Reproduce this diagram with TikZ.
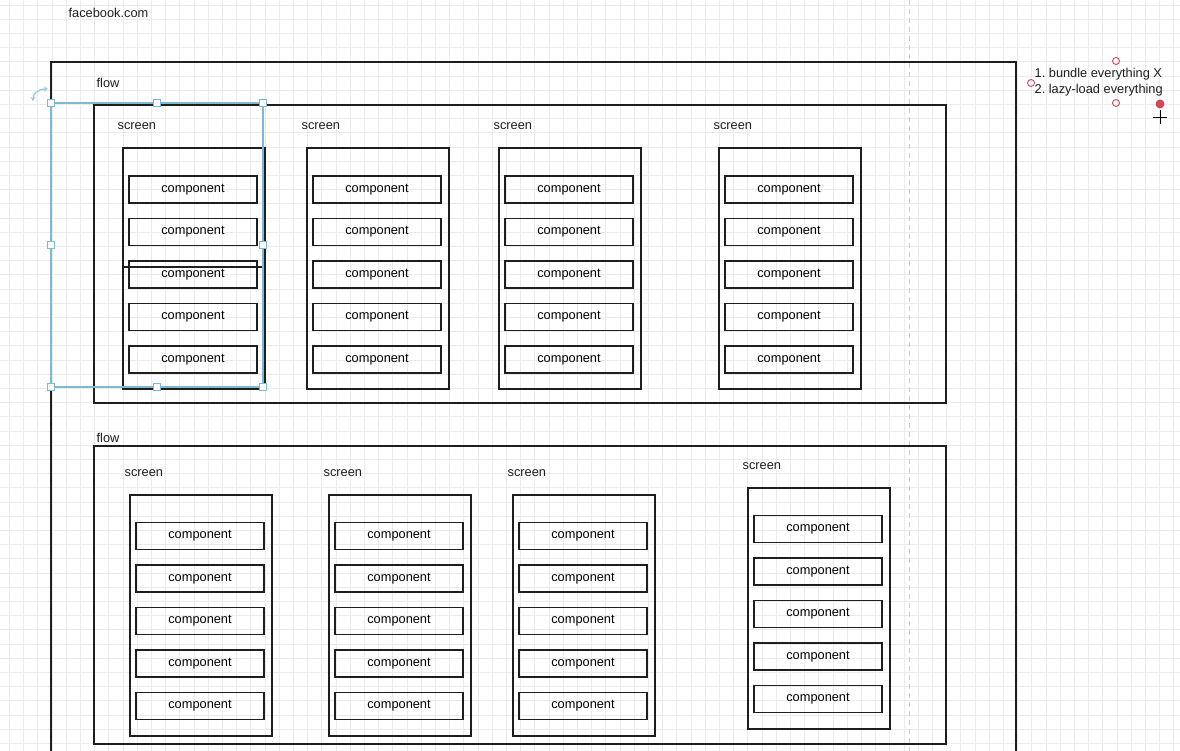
\documentclass[tikz,border=0pt]{standalone}
\usepackage{fontspec}
\setmainfont{Liberation Sans}
\usepackage{tikz}
\usetikzlibrary{arrows.meta}
\frenchspacing

\definecolor{inkline}{HTML}{1E1E1E}
\definecolor{gridgray}{HTML}{EBEBEB}
\definecolor{selblue}{HTML}{7DB9D5}
\definecolor{pinred}{HTML}{D0485A}

\begin{document}
\begin{tikzpicture}[x=1pt,y=-1pt,line width=1.3pt,
    every node/.style={font=\fontsize{12.8}{15}\selectfont},
    box/.style={draw=inkline,line width=1.8pt,inner sep=0pt},
    component/.style={box,minimum width=128pt,minimum height=27pt},
    screenbox/.style={box,anchor=north west,minimum width=142pt,minimum height=241pt},
    tag/.style={anchor=west,inner sep=0pt,text=black!88},
    handle/.style={draw=selblue,fill=white,line width=.9pt,minimum size=7pt,inner sep=0pt},
    pin/.style={draw=pinred,line width=.9pt}]
  \useasboundingbox (0,0) rectangle (1180,751);
  \fill[white] (0,0) rectangle (1180,751);

  % grid
  \foreach \gx in {9.3,23.5,...,1180}
    \draw[gridgray,line width=.5pt] (\gx,0) -- (\gx,751);
  \foreach \gy in {4.9,19.1,...,751}
    \draw[gridgray,line width=.5pt] (0,\gy) -- (1180,\gy);
  \draw[black!20,line width=.9pt,dash pattern=on 5pt off 4pt] (909,0) -- (909,751);

  \node[tag] (site) at (68,13) {facebook.com};
  \draw[inkline,line width=1.8pt] (51,751) -- (51,62) -- (1016,62) -- (1016,751);

  % first flow
  \node[tag] (flowa) at (96,83) {flow};
  \node[box,anchor=north west,minimum width=852pt,minimum height=298pt] (fa) at (93,104) {};
  \foreach \sx/\sy [count=\i] in {122/147,306/147,498/147,718/147} {
    \node[tag] (la\i) at (\sx-5,\sy-21) {screen};
    \node[screenbox] (sa\i) at (\sx,\sy) {};
    \foreach \k in {0,...,4}
      \node[component] (ca\i\k) at (\sx+71,\sy+42.5+\k*42.5) {component};
  }
  \draw[inkline,line width=1.6pt] (sa1.west |- 0,267) -- (sa1.east |- 0,267);

  % second flow
  \node[tag] (flowb) at (96,438) {flow};
  \node[box,anchor=north west,minimum width=852pt,minimum height=298pt] (fb) at (93,445) {};
  \foreach \sx/\sy [count=\i] in {129/494,328/494,512/494,747/487} {
    \node[tag] (lb\i) at (\sx-5,\sy-21) {screen};
    \node[screenbox] (sb\i) at (\sx,\sy) {};
    \foreach \k in {0,...,4}
      \node[component] (cb\i\k) at (\sx+71,\sy+42+\k*42.5) {component};
  }

  % selection
  \draw[selblue,line width=1.2pt] (51,103) rectangle (263,387);
  \foreach \hx/\hy in {51/103,157/103,263/103,51/245,263/245,51/387,157/387,263/387}
    \node[handle] at (\hx,\hy) {};
  \draw[selblue!75,line width=1.3pt,
        {Stealth[length=4pt,width=5pt]}-{Stealth[length=4pt,width=5pt]}]
    (33,101) .. controls (33,94) and (38,89) .. (48,89);

  % note
  \node[anchor=north west,inner sep=0pt,align=left,text=black!88,
        font=\fontsize{12.8}{15.5}\selectfont] (note) at (1034,68)
    {1. bundle everything X\\2. lazy-load everything};
  \draw[pin] (1116,61) circle (3.5);
  \draw[pin] (1031,83) circle (3.5);
  \draw[pin] (1116,103) circle (3.5);
  \fill[pinred] (1160,104) circle (4.5);
  \draw[black,line width=.9pt] (1153,117) -- (1167,117) (1160,110) -- (1160,124);
\end{tikzpicture}
\end{document}
